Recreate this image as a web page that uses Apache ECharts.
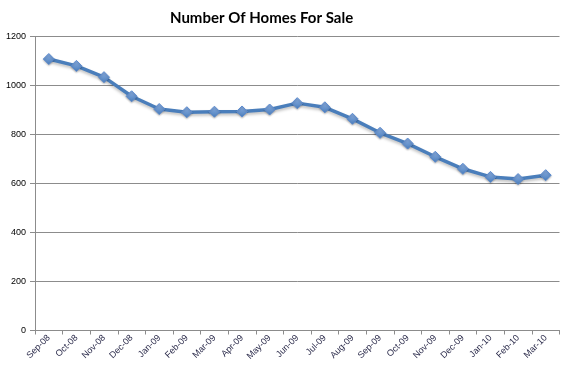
<!DOCTYPE html>
<html>
<head>
<meta charset="utf-8">
<script src="https://cdn.jsdelivr.net/npm/echarts@6/dist/echarts.min.js"></script>
<style>
  html, body { margin: 0; padding: 0; background: #fff; }
  #chart { width: 569px; height: 375px; }
</style>
</head>
<body>
<div id="chart"></div>
<script>
// months on the x axis
const months = ['Sep-08', 'Oct-08', 'Nov-08', 'Dec-08', 'Jan-09', 'Feb-09', 'Mar-09', 'Apr-09', 'May-09',
  'Jun-09', 'Jul-09', 'Aug-09', 'Sep-09', 'Oct-09', 'Nov-09', 'Dec-09', 'Jan-10', 'Feb-10', 'Mar-10'];

// homes for sale
const homesForSale = [1108, 1080, 1034, 956, 904, 891, 893, 894, 902, 928, 911, 864, 807, 763, 709, 660, 627, 618, 634];

const yTicks = [0, 200, 400, 600, 800, 1000, 1200];

const chart = echarts.init(document.getElementById('chart'), null, { renderer: 'canvas' });

chart.setOption({
  animation: false,
  title: {
    text: 'Number Of Homes For Sale',
    left: 165,
    top: 6,
    textStyle: {
      fontFamily: 'Lato',
      fontWeight: 'bold',
      fontSize: 15,
      color: '#000'
    }
  },
  grid: {
    left: 35,
    right: 9.5,
    top: 36.5,
    bottom: 44.5,
    containLabel: false
  },
  xAxis: {
    type: 'category',
    data: months,
    boundaryGap: true,
    axisLine: { lineStyle: { color: '#8c8c8c', width: 1 } },
    axisTick: { show: true, alignWithLabel: false, length: 4, lineStyle: { color: '#8c8c8c' } },
    axisLabel: {
      rotate: 45,
      interval: 0,
      margin: 6,
      fontSize: 9,
      fontFamily: 'Liberation Sans',
      color: '#2a2a4a'
    }
  },
  yAxis: {
    type: 'value',
    min: yTicks[0],
    max: yTicks[yTicks.length - 1],
    interval: 200,
    axisLine: { show: true, lineStyle: { color: '#8c8c8c', width: 1 } },
    axisTick: { show: true, length: 5, lineStyle: { color: '#8c8c8c' } },
    axisLabel: {
      margin: 9,
      fontSize: 9,
      fontFamily: 'Liberation Sans',
      color: '#000',
      formatter: v => String(v)
    },
    splitLine: { lineStyle: { color: '#8c8c8c', width: 1 } }
  },
  series: [{
    type: 'line',
    data: homesForSale,
    symbol: 'diamond',
    symbolSize: 11,
    lineStyle: {
      color: '#4a7ebb',
      width: 3.5,
      shadowColor: 'rgba(0,0,0,0.25)',
      shadowBlur: 3,
      shadowOffsetY: 2
    },
    itemStyle: {
      color: new echarts.graphic.LinearGradient(0, 0, 0, 1, [
        { offset: 0, color: '#8eb0e3' },
        { offset: 1, color: '#4a7ebb' }
      ]),
      borderColor: '#5b8bd0',
      borderWidth: 1,
      shadowColor: 'rgba(0,0,0,0.25)',
      shadowBlur: 2,
      shadowOffsetY: 1
    }
  }]
});
</script>
</body>
</html>
